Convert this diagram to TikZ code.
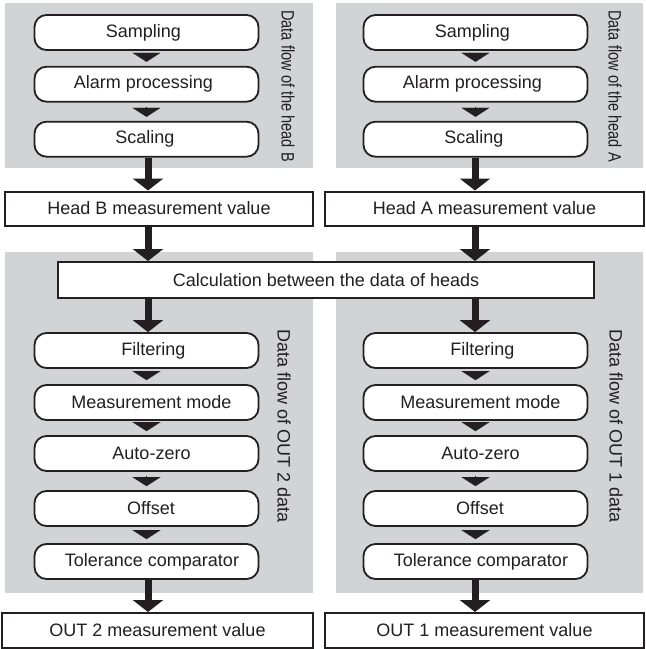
\documentclass[tikz,border=0pt]{standalone}
\usepackage{fontspec}
\setmainfont{Liberation Sans}
\usetikzlibrary{arrows.meta}
\definecolor{panel}{RGB}{209,211,212}
\definecolor{ink}{RGB}{35,31,32}
\begin{document}
\begin{tikzpicture}[x=1pt,y=-1pt,
  lbl/.style={font=\fontsize{18}{20}\selectfont,text=ink},
  panelbox/.style={fill=panel,draw=none},
  proc/.style={lbl,draw=ink,line width=1.8pt,rounded corners=12pt,fill=white,
    minimum width=224pt,minimum height=35pt,inner sep=0pt},
  valbox/.style={lbl,draw=ink,line width=2pt,fill=white,minimum height=34pt,inner sep=0pt},
  vlabel/.style={lbl,rotate=-90,inner sep=0pt},
  bigarrow/.style={draw=ink,line width=7pt,-{Triangle[width=30pt,length=12pt]}},
  smallarrow/.style={draw=ink,line width=0.1pt,-{Triangle[width=28pt,length=9pt]},
    shorten <=4pt,shorten >=4pt}
]
\useasboundingbox (0,0) rectangle (646,649);
% panels
\fill[panelbox] (5,3) rectangle (313,168);
\fill[panelbox] (336,3) rectangle (643,168);
\fill[panelbox] (5,252) rectangle (313,593);
\fill[panelbox] (336,252) rectangle (643,593);

% upper left
\node[proc] (bs) at (146.5,32.5) {Sampling\hspace*{6pt}};
\node[proc] (ba) at (146.5,84.2) {Alarm processing\hspace*{6pt}};
\node[proc] (bc) at (146.5,139.2) {Scaling\hspace*{3pt}};
\node[vlabel] (bl) at (288,86) {\scalebox{0.81}[1]{Data flow of the head B}};
% upper right
\node[proc] (as) at (475.5,32.5) {Sampling\hspace*{6pt}};
\node[proc] (aa) at (475.5,84.2) {Alarm processing\hspace*{6pt}};
\node[proc] (ac) at (475.5,139.2) {Scaling\hspace*{3pt}};
\node[vlabel] (al) at (615,86) {\scalebox{0.81}[1]{Data flow of the head A}};

% value boxes
\node[valbox,minimum width=308pt] (hb) at (159,208.5) {Head B measurement value};
\node[valbox,minimum width=319pt] (ha) at (484.5,208.5) {Head A measurement value};
\node[valbox,minimum width=536pt,minimum height=36pt] (calc) at (326,280) {Calculation between the data of heads};

% lower left
\node[proc] (f2) at (146.5,350.5) {\hspace*{14pt}Filtering};
\node[proc] (m2) at (146.5,402.5) {\hspace*{10pt}Measurement mode};
\node[proc] (z2) at (146.5,453.5) {\hspace*{10pt}Auto-zero};
\node[proc] (o2) at (146.5,508.5) {\hspace*{9pt}Offset};
\node[proc] (t2) at (146.5,561.5) {\hspace*{11pt}Tolerance comparator};
\node[vlabel] (l2) at (284,426) {Data flow of OUT 2 data};
% lower right
\node[proc] (f1) at (475.5,350.5) {\hspace*{14pt}Filtering};
\node[proc] (m1) at (475.5,402.5) {\hspace*{10pt}Measurement mode};
\node[proc] (z1) at (475.5,453.5) {\hspace*{10pt}Auto-zero};
\node[proc] (o1) at (475.5,508.5) {\hspace*{9pt}Offset};
\node[proc] (t1) at (475.5,561.5) {\hspace*{11pt}Tolerance comparator};
\node[vlabel] (l1) at (616,426) {Data flow of OUT 1 data};

\node[valbox,minimum width=311pt,minimum height=35pt] (o2v) at (157.5,630.5) {OUT 2 measurement value};
\node[valbox,minimum width=319pt,minimum height=35pt] (o1v) at (484.5,630.5) {OUT 1 measurement value};

% small arrows
\foreach \a/\b in {bs/ba,ba/bc,as/aa,aa/ac,f2/m2,m2/z2,z2/o2,o2/t2,f1/m1,m1/z1,z1/o1,o1/t1}
  \draw[smallarrow] (\a.south) -- (\b.north);

% big arrows
\draw[bigarrow] ([xshift=1.5pt]bc.south) -- ([xshift=1.5pt]bc.south |- hb.north);
\draw[bigarrow] ([xshift=-0.5pt]ac.south) -- ([xshift=-0.5pt]ac.south |- ha.north);
\draw[bigarrow] ([xshift=1.5pt]bc.south |- hb.south) -- ([xshift=1.5pt]bc.south |- calc.north);
\draw[bigarrow] ([xshift=-0.5pt]ac.south |- ha.south) -- ([xshift=-0.5pt]ac.south |- calc.north);
\draw[bigarrow] ([xshift=1.5pt]f2.north |- calc.south) -- ([xshift=1.5pt]f2.north);
\draw[bigarrow] ([xshift=-0.5pt]f1.north |- calc.south) -- ([xshift=-0.5pt]f1.north);
\draw[bigarrow] ([xshift=1.5pt]t2.south) -- ([xshift=1.5pt]t2.south |- o2v.north);
\draw[bigarrow] ([xshift=-0.5pt]t1.south) -- ([xshift=-0.5pt]t1.south |- o1v.north);
\end{tikzpicture}
\end{document}
